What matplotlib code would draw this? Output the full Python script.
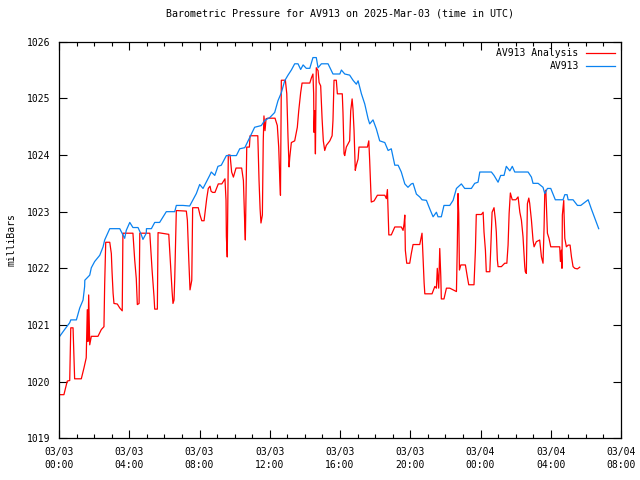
import matplotlib
matplotlib.use("Agg")
from matplotlib import pyplot as plt
from matplotlib.ticker import MultipleLocator

# hours since 2025-03-03 00:00 UTC, pressure in mb
obs_hours = [0.04, 0.32, 0.61, 0.67, 0.99, 1.18, 1.37, 1.46, 1.47, 1.75, 1.84, 2.03, 2.32,
             2.51, 2.60, 2.89, 3.46, 3.74, 3.83, 4.03, 4.21, 4.50, 4.69, 4.78, 4.97, 4.98,
             5.26, 5.45, 5.73, 6.11, 6.59, 6.68, 7.06, 7.44, 7.82, 8.01, 8.20, 8.58, 8.67,
             8.87, 9.05, 9.24, 9.53, 10.10, 10.29, 10.58, 10.86, 11.14, 11.52, 11.71, 12.00,
             12.28, 12.47, 12.66, 12.85, 13.04, 13.23, 13.42, 13.61, 13.76, 13.90, 14.08,
             14.28, 14.46, 14.65, 14.75, 14.94, 15.32, 15.60, 15.99, 16.08, 16.27, 16.55,
             16.74, 16.93, 17.03, 17.22, 17.41, 17.60, 17.69, 17.88, 18.07, 18.26, 18.55,
             18.74, 18.92, 19.12, 19.31, 19.49, 19.69, 19.87, 20.06, 20.16, 20.35, 20.54,
             20.67, 20.92, 21.11, 21.30, 21.49, 21.58, 21.77, 21.92, 22.25, 22.44, 22.63,
             22.91, 23.10, 23.48, 23.67, 23.86, 23.96, 24.62, 24.77, 25.00, 25.15, 25.34,
             25.47, 25.67, 25.81, 25.95, 26.71, 26.90, 26.99, 27.28, 27.56, 27.66, 27.81,
             28.00, 28.26, 28.70, 28.80, 28.93, 28.99, 29.27, 29.52, 29.71, 30.13, 30.31,
             30.73]
obs_mb = [1020.80, 1020.92, 1021.04, 1021.09, 1021.09, 1021.30, 1021.44, 1021.68, 1021.79,
          1021.88, 1022.01, 1022.12, 1022.23, 1022.38, 1022.50, 1022.70, 1022.70, 1022.53,
          1022.67, 1022.81, 1022.72, 1022.72, 1022.59, 1022.51, 1022.62, 1022.70, 1022.70,
          1022.81, 1022.81, 1023.00, 1023.00, 1023.11, 1023.11, 1023.10, 1023.32, 1023.48,
          1023.41, 1023.64, 1023.70, 1023.64, 1023.80, 1023.82, 1023.99, 1023.99, 1024.11,
          1024.13, 1024.31, 1024.49, 1024.52, 1024.61, 1024.66, 1024.75, 1024.96, 1025.10,
          1025.31, 1025.41, 1025.50, 1025.61, 1025.61, 1025.51, 1025.59, 1025.53, 1025.53,
          1025.72, 1025.72, 1025.54, 1025.61, 1025.61, 1025.43, 1025.43, 1025.50, 1025.43,
          1025.41, 1025.32, 1025.25, 1025.31, 1025.08, 1024.90, 1024.64, 1024.55, 1024.62,
          1024.46, 1024.25, 1024.22, 1024.08, 1024.11, 1023.82, 1023.82, 1023.70, 1023.49,
          1023.43, 1023.49, 1023.50, 1023.31, 1023.26, 1023.21, 1023.20, 1023.05, 1022.91,
          1022.99, 1022.91, 1022.91, 1023.11, 1023.11, 1023.20, 1023.41, 1023.49, 1023.41,
          1023.41, 1023.50, 1023.52, 1023.70, 1023.70, 1023.64, 1023.52, 1023.64, 1023.64,
          1023.80, 1023.72, 1023.80, 1023.70, 1023.70, 1023.61, 1023.50, 1023.50, 1023.43,
          1023.32, 1023.41, 1023.41, 1023.21, 1023.21, 1023.30, 1023.30, 1023.21, 1023.21,
          1023.11, 1023.11, 1023.21, 1023.05, 1022.70]

ana_hours = [0.04, 0.28, 0.47, 0.61, 0.64, 0.67, 0.80, 0.85, 0.89, 1.27, 1.42, 1.55, 1.61,
             1.65, 1.69, 1.75, 1.84, 2.22, 2.41, 2.56, 2.60, 2.66, 2.89, 2.98, 3.02, 3.08,
             3.13, 3.32, 3.46, 3.60, 3.64, 4.21, 4.31, 4.40, 4.46, 4.56, 4.60, 5.17, 5.30,
             5.41, 5.45, 5.60, 5.64, 6.25, 6.36, 6.44, 6.49, 6.55, 6.59, 6.65, 6.68, 7.25,
             7.31, 7.39, 7.46, 7.56, 7.61, 7.93, 8.03, 8.13, 8.26, 8.31, 8.41, 8.50, 8.60,
             8.66, 8.75, 8.88, 9.07, 9.27, 9.45, 9.51, 9.53, 9.58, 9.61, 9.64, 9.74, 9.83,
             9.93, 10.08, 10.40, 10.50, 10.54, 10.58, 10.61, 10.65, 10.69, 10.84, 10.88,
             11.32, 11.39, 11.45, 11.50, 11.58, 11.63, 11.67, 11.73, 11.79, 11.89, 12.30,
             12.43, 12.51, 12.57, 12.61, 12.66, 12.89, 12.97, 13.04, 13.10, 13.14, 13.23,
             13.42, 13.57, 13.65, 13.76, 13.84, 14.28, 14.37, 14.46, 14.50, 14.52, 14.56,
             14.60, 14.65, 14.75, 14.81, 14.90, 14.98, 15.05, 15.13, 15.22, 15.42, 15.55,
             15.60, 15.66, 15.79, 15.85, 16.13, 16.17, 16.23, 16.27, 16.36, 16.46, 16.55,
             16.61, 16.69, 16.74, 16.80, 16.87, 16.93, 17.03, 17.08, 17.56, 17.64, 17.69,
             17.75, 17.78, 17.94, 18.13, 18.55, 18.64, 18.70, 18.74, 18.78, 18.92, 19.12,
             19.49, 19.59, 19.65, 19.69, 19.72, 19.80, 19.97, 20.06, 20.16, 20.54, 20.63,
             20.67, 20.73, 20.79, 20.83, 21.24, 21.40, 21.49, 21.54, 21.62, 21.68, 21.74,
             21.77, 21.92, 22.06, 22.25, 22.44, 22.63, 22.68, 22.72, 22.76, 22.80, 22.88,
             23.14, 23.25, 23.33, 23.63, 23.71, 23.76, 24.05, 24.15, 24.20, 24.28, 24.33,
             24.53, 24.58, 24.66, 24.77, 24.85, 24.90, 24.96, 25.00, 25.19, 25.38, 25.50,
             25.57, 25.63, 25.70, 25.76, 25.81, 26.01, 26.14, 26.24, 26.33, 26.42, 26.52,
             26.55, 26.61, 26.67, 26.75, 26.80, 26.90, 26.99, 27.05, 27.18, 27.37, 27.47,
             27.56, 27.62, 27.66, 27.72, 27.75, 27.81, 27.90, 28.00, 28.51, 28.55, 28.60,
             28.64, 28.66, 28.74, 28.76, 28.80, 28.89, 28.99, 29.10, 29.18, 29.27, 29.37,
             29.52, 29.65]
ana_mb = [1019.77, 1019.77, 1020.01, 1020.02, 1020.48, 1020.95, 1020.95, 1020.48, 1020.05,
          1020.05, 1020.24, 1020.42, 1021.27, 1020.71, 1021.53, 1020.65, 1020.80, 1020.80,
          1020.92, 1020.97, 1021.71, 1022.46, 1022.46, 1022.26, 1021.94, 1021.56, 1021.38,
          1021.37, 1021.30, 1021.25, 1022.62, 1022.62, 1022.15, 1021.82, 1021.36, 1021.38,
          1022.62, 1022.62, 1021.97, 1021.50, 1021.28, 1021.28, 1022.63, 1022.60, 1022.00,
          1021.59, 1021.38, 1021.44, 1021.82, 1022.62, 1023.02, 1023.01, 1022.85, 1022.15,
          1021.62, 1021.79, 1023.07, 1023.07, 1022.94, 1022.84, 1022.84, 1022.97, 1023.23,
          1023.41, 1023.45, 1023.36, 1023.34, 1023.34, 1023.49, 1023.49, 1023.58, 1023.20,
          1022.56, 1022.20, 1023.08, 1024.00, 1024.00, 1023.70, 1023.61, 1023.77, 1023.77,
          1023.55, 1023.14, 1022.73, 1022.50, 1023.32, 1024.14, 1024.14, 1024.34, 1024.34,
          1023.55, 1023.05, 1022.80, 1022.94, 1024.25, 1024.69, 1024.43, 1024.64, 1024.65,
          1024.65, 1024.52, 1024.14, 1023.58, 1023.29, 1025.32, 1025.32, 1025.08, 1024.31,
          1023.79, 1023.96, 1024.22, 1024.25, 1024.49, 1024.78, 1025.10, 1025.27, 1025.27,
          1025.36, 1025.43, 1025.08, 1024.40, 1024.78, 1024.02, 1025.54, 1025.49, 1025.28,
          1025.22, 1024.64, 1024.25, 1024.08, 1024.17, 1024.25, 1024.34, 1024.61, 1025.32,
          1025.32, 1025.08, 1025.08, 1024.75, 1024.02, 1023.99, 1024.14, 1024.20, 1024.25,
          1024.78, 1024.99, 1024.81, 1024.43, 1023.73, 1023.82, 1023.93, 1024.14, 1024.14,
          1024.25, 1023.90, 1023.43, 1023.17, 1023.19, 1023.29, 1023.29, 1023.23, 1023.39,
          1022.99, 1022.59, 1022.59, 1022.73, 1022.73, 1022.67, 1022.79, 1022.94, 1022.32,
          1022.09, 1022.09, 1022.26, 1022.42, 1022.42, 1022.56, 1022.62, 1022.20, 1021.74,
          1021.55, 1021.55, 1021.68, 1021.65, 1022.00, 1021.65, 1022.35, 1021.85, 1021.46,
          1021.46, 1021.65, 1021.65, 1021.62, 1021.59, 1022.41, 1023.32, 1022.97, 1021.97,
          1022.06, 1022.06, 1021.85, 1021.71, 1021.71, 1022.32, 1022.95, 1022.95, 1022.99,
          1022.64, 1022.32, 1021.94, 1021.94, 1022.32, 1022.99, 1023.07, 1022.85, 1022.64,
          1022.15, 1022.03, 1022.03, 1022.09, 1022.09, 1022.41, 1022.97, 1023.33, 1023.26,
          1023.21, 1023.21, 1023.26, 1022.99, 1022.85, 1022.56, 1022.03, 1021.94, 1021.91,
          1023.14, 1023.24, 1023.15, 1022.85, 1022.50, 1022.38, 1022.47, 1022.50, 1022.20,
          1022.09, 1022.73, 1023.35, 1023.38, 1023.14, 1022.62, 1022.53, 1022.38, 1022.38,
          1022.12, 1022.32, 1022.00, 1022.94, 1023.20, 1022.94, 1022.53, 1022.38, 1022.41,
          1022.41, 1022.20, 1022.03, 1022.00, 1021.99, 1022.02]

tick_hours = [0, 4, 8, 12, 16, 20, 24, 28, 32]
tick_labels = ["03/03\n00:00", "03/03\n04:00", "03/03\n08:00", "03/03\n12:00",
               "03/03\n16:00", "03/03\n20:00", "03/04\n00:00", "03/04\n04:00",
               "03/04\n08:00"]

plt.rcParams['font.family'] = ['DejaVu Sans Mono']
plt.rcParams['font.size'] = 7

fig = plt.figure(figsize=(6.4, 4.8), dpi=100)
ax = fig.add_axes([59 / 640, 1 - 438.3 / 480, 562 / 640, 396.6 / 480])

ax.plot(ana_hours, ana_mb, color="#ff0000", lw=0.9, label="AV913 Analysis")
ax.plot(obs_hours, obs_mb, color="#0a82f0", lw=0.9, label="AV913")

ax.set_xlim(0, 32)
ax.set_ylim(1019, 1026)
ax.set_xticks(tick_hours)
ax.set_xticklabels(tick_labels, linespacing=1.4)
ax.xaxis.set_minor_locator(MultipleLocator(1))
ax.yaxis.set_major_locator(MultipleLocator(1))
ax.yaxis.set_major_formatter(plt.FormatStrFormatter("%d"))
ax.tick_params(which="both", direction="in", top=True, right=True, color="black",
               width=0.8, pad=6)
ax.tick_params(which="major", length=6)
ax.tick_params(which="minor", length=3)
for s in ax.spines.values():
    s.set_linewidth(0.9)

ax.set_ylabel("milliBars", labelpad=8)
ax.set_title("Barometric Pressure for AV913 on 2025-Mar-03 (time in UTC)",
             fontsize=7.2, pad=18)

leg = ax.legend(loc="upper right", frameon=False, markerfirst=False, fontsize=7,
                handlelength=2.9, handletextpad=0.8, borderaxespad=0.25,
                labelspacing=0.35)
for t in leg.get_texts():
    t.set_ha("right")

fig.savefig("out.png", dpi=100)
